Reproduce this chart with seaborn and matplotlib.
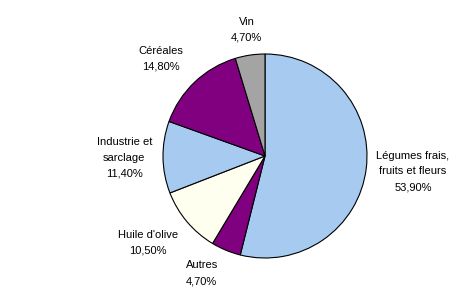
import matplotlib
matplotlib.use("Agg")
import matplotlib.pyplot as plt
import seaborn as sns

sns.set_theme(style="white")
plt.rcParams['font.family'] = ['Liberation Sans', 'DejaVu Sans']

categories = ["Légumes frais,\nfruits et fleurs", "Autres", "Huile d'olive",
              "Industrie et\nsarclage", "Céréales", "Vin"]
values = [53.9, 4.7, 10.5, 11.4, 14.8, 4.7]
colors = ["#A6CAF0", "#800080", "#FFFFF0", "#A6CAF0", "#800080", "#A4A4A4"]
# label anchor positions (in units of pie radius), Excel-style layout
label_pos = [(1.45, -0.15), (-0.62, -1.15), (-1.15, -0.85),
             (-1.38, -0.02), (-1.02, 0.95), (-0.18, 1.235)]

W, H = 471, 292
fig = plt.figure(figsize=(W / 100, H / 100), dpi=100)
cx, cy, r = 265, 156, 102
ax = fig.add_axes([(cx - r) / W, (H - cy - r) / H, 2 * r / W, 2 * r / H])

wedges, _ = ax.pie(values, colors=colors, startangle=90, counterclock=False,
                   wedgeprops=dict(edgecolor="black", linewidth=0.8))
ax.set_xlim(-1, 1)
ax.set_ylim(-1, 1)

for cat, val, (lx, ly) in zip(categories, values, label_pos):
    txt = f"{cat}\n{val:.2f}%".replace(".", ",")
    ax.text(lx, ly, txt, ha="center", va="center", fontsize=8,
            linespacing=1.72, color="black", clip_on=False)

ax.axis("off")
fig.savefig("out.png", dpi=100, facecolor="white")
